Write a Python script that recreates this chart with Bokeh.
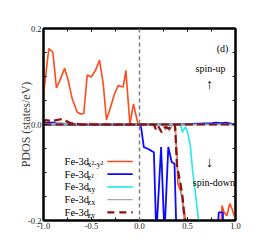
from bokeh.plotting import figure
from bokeh.models import FixedTicker, PrintfTickFormatter, LinearAxis, Span, Range1d, ColumnDataSource
from bokeh.core.properties import value
from bokeh.embed import file_html
from bokeh.resources import INLINE

# ---- data (energy in eV, PDOS in states/eV) ----
x2y2_up_x = [-1.0, -0.945, -0.903, -0.865, -0.83, -0.78, -0.743, -0.70, -0.65, -0.615, -0.58, -0.545,
             -0.503, -0.458, -0.417, -0.378, -0.344, -0.295, -0.26, -0.222, -0.17, -0.142, -0.10,
             -0.063, -0.028, -0.015, 0.2, 0.5, 0.8, 1.0]
x2y2_up_y = [0.062, 0.158, 0.151, 0.076, 0.092, 0.117, 0.092, 0.053, 0.026, 0.022, 0.023, 0.103,
             0.099, 0.113, 0.134, 0.085, 0.010, 0.040, 0.064, 0.081, 0.078, 0.113, 0.0,
             0.043, 0.012, 0.0, 0.001, 0.0, 0.001, 0.0]
x2y2_dn_x = [-1.0, 0.0, 0.37, 0.39, 0.40, 0.43, 0.445, 0.46, 0.48, 0.50, 0.82, 0.845, 0.86, 0.88,
             0.91, 0.94, 0.965, 0.98, 1.0]
x2y2_dn_y = [0.0, 0.0, 0.0, -0.06, -0.124, -0.14, -0.155, -0.176, -0.2, -0.25, -0.25, -0.22, -0.169,
             -0.183, -0.19, -0.165, -0.176, -0.186, -0.197]

z2_up_x = [-1.0, -0.95, -0.9, -0.85, -0.8, -0.6, -0.3, 0.0, 0.4, 0.75, 0.8, 0.85, 0.9, 1.0]
z2_up_y = [0.002, 0.004, 0.004, 0.003, 0.001, 0.0, 0.0, 0.0, 0.0, 0.003, 0.004, 0.003, 0.004, 0.0]
z2_dn_x = [-1.0, 0.0, 0.01, 0.02, 0.045, 0.08, 0.125, 0.15, 0.175, 0.225, 0.26, 0.30, 0.335, 0.365,
           0.385, 0.81, 0.826, 0.868, 0.875, 1.0]
z2_dn_y = [0.0, 0.0, -0.002, -0.01, -0.047, -0.05, -0.055, -0.058, -0.23, -0.047, -0.23, -0.047,
           -0.078, -0.082, -0.23, -0.23, -0.183, -0.183, -0.23, -0.23]

xy_up_x = [-1.0, -0.5, 0.0, 0.5, 1.0]
xy_up_y = [0.001, 0.0, 0.0, 0.0, 0.0]
xy_dn_x = [-1.0, 0.40, 0.43, 0.445, 0.48, 0.50, 0.53, 0.555, 0.58, 0.615, 0.635, 1.0]
xy_dn_y = [0.0, 0.0, -0.002, -0.016, -0.005, -0.016, -0.045, -0.10, -0.14, -0.2, -0.24, -0.24]

zx_up_x = [-1.0, -0.9, -0.85, -0.78, -0.72, -0.6, -0.5, -0.4, -0.2, 0.0, 1.0]
zx_up_y = [0.0, 0.002, 0.004, 0.003, 0.004, 0.001, 0.003, 0.001, 0.002, 0.0, 0.0]
zx_dn_x = [-1.0, 0.24, 0.27, 0.29, 0.31, 0.34, 0.37, 0.39, 0.43, 0.46, 0.48, 1.0]
zx_dn_y = [0.0, 0.0, -0.012, -0.002, -0.014, -0.003, 0.0, -0.085, -0.133, -0.19, -0.24, -0.24]

zy_up_x = [-1.0, -0.98, -0.945, -0.89, -0.82, -0.77, -0.72, -0.6, 0.0, 1.0]
zy_up_y = [0.003, 0.009, 0.008, 0.008, 0.011, 0.008, 0.003, 0.0, 0.0, 0.0]
zy_dn_x = [-1.0, 0.15, 0.175, 0.20, 0.23, 0.27, 0.305, 0.34, 0.37, 0.39, 0.43, 0.45, 0.47, 0.49, 1.0]
zy_dn_y = [0.0, 0.0, -0.0125, -0.005, -0.016, -0.005, -0.009, -0.002, 0.0, -0.085, -0.127, -0.154,
           -0.196, -0.24, -0.24]

legend_main = ["Fe-3d", "Fe-3d", "Fe-3d", "Fe-3d", "Fe-3d"]
legend_sub = ["x\u00b2-y\u00b2", "z\u00b2", "xy", "zx", "zy"]
x_ticks = [-1.0, -0.5, 0.0, 0.5, 1.0]
x_minor = [-1.0, -0.75, -0.5, -0.25, 0.0, 0.25, 0.5, 0.75, 1.0]
y_ticks = [-0.2, 0.0, 0.2]
y_minor = [-0.2, -0.15, -0.1, -0.05, 0.0, 0.05, 0.1, 0.15, 0.2]

FONT = "Liberation Serif"

p = figure(frame_width=192, frame_height=192, output_backend="svg", toolbar_location=None,
           x_range=Range1d(-1.0, 1.0), y_range=Range1d(-0.2, 0.2),
           min_border_left=43, min_border_right=23, min_border_top=28, min_border_bottom=20)
p.grid.visible = False
p.outline_line_color = "black"
p.outline_line_width = 2
p.background_fill_color = "white"
p.border_fill_color = "white"

def style_axis(ax, ticks, minor, labels=True):
    ax.ticker = FixedTicker(ticks=ticks, minor_ticks=minor)
    ax.formatter = PrintfTickFormatter(format="%.1f")
    ax.major_tick_in = 3
    ax.major_tick_out = 0
    ax.minor_tick_in = 3
    ax.minor_tick_out = 0
    ax.axis_line_width = 2
    ax.major_tick_line_width = 1
    ax.minor_tick_line_width = 1
    ax.major_label_text_font = FONT
    ax.major_label_text_font_size = "8.5px"
    ax.major_label_text_color = "#222222"
    ax.major_label_standoff = 2
    if not labels:
        ax.major_label_text_color = None
        ax.major_label_text_font_size = "1px"
        ax.major_label_standoff = 0

style_axis(p.xaxis[0], x_ticks, x_minor)
style_axis(p.yaxis[0], y_ticks, y_minor)
p.yaxis[0].axis_label = "PDOS (states/eV)"
p.yaxis[0].axis_label_text_font = FONT
p.yaxis[0].axis_label_text_font_size = "12px"
p.yaxis[0].axis_label_text_font_style = "normal"
p.yaxis[0].axis_label_standoff = -8

top = LinearAxis()
style_axis(top, x_ticks, x_minor, labels=False)
p.add_layout(top, "above")
right = LinearAxis()
style_axis(right, y_ticks, y_minor, labels=False)
p.add_layout(right, "right")

p.add_layout(Span(location=0.0, dimension="height", line_color="#7f7f7f",
                  line_width=1.5, line_dash="4 3"))

series = [
    (x2y2_up_x, x2y2_up_y, x2y2_dn_x, x2y2_dn_y, "#ff4a1a", 1.6, "solid"),
    (z2_up_x, z2_up_y, z2_dn_x, z2_dn_y, "#0a0aff", 1.8, "solid"),
    (xy_up_x, xy_up_y, xy_dn_x, xy_dn_y, "#30e8e8", 1.7, "solid"),
    (zx_up_x, zx_up_y, zx_dn_x, zx_dn_y, "#a8a8a8", 1.3, "solid"),
    (zy_up_x, zy_up_y, zy_dn_x, zy_dn_y, "#8b1010", 2.2, "8 4"),
]
for ux, uy, dx, dy, col, lw, dash in series:
    p.line(dx, dy, line_color=col, line_width=lw, line_dash=dash)
    p.line(ux, uy, line_color=col, line_width=lw, line_dash=dash)

# legend (manual, to allow subscripts)
rows_y = [-0.077 - 0.0265 * i for i in range(5)]
leg = ColumnDataSource(dict(x=[-0.78] * 5, y=rows_y, main=legend_main, sub=legend_sub))
p.text(x="x", y="y", text="main", source=leg, text_font=value(FONT), text_font_size="10.5px",
       text_align="left", text_baseline="middle", text_color="black")
p.text(x="x", y="y", text="sub", source=leg, text_font=value(FONT), text_font_size="8px",
       text_align="left", text_baseline="middle", text_color="black", x_offset=23, y_offset=3)
for i, (_, _, _, _, col, lw, dash) in enumerate(series):
    p.segment(x0=[-0.335], y0=[rows_y[i]], x1=[-0.07], y1=[rows_y[i]],
              line_color=col, line_width=lw, line_dash=("7 5" if dash != "solid" else "solid"))

notes = ["(d)", "spin-up", "\u2191", "\u2193", "spin-down"]
notes_x = [0.865, 0.74, 0.73, 0.73, 0.775]
notes_y = [0.158, 0.117, 0.083, -0.079, -0.121]
notes_size = ["10px", "10px", "14px", "14px", "10px"]
p.text(x=notes_x, y=notes_y, text=notes, text_font=value(FONT), text_font_size=notes_size,
       text_align="center", text_baseline="middle", text_color="black")

open("out.html", "w").write(file_html(p, INLINE))
